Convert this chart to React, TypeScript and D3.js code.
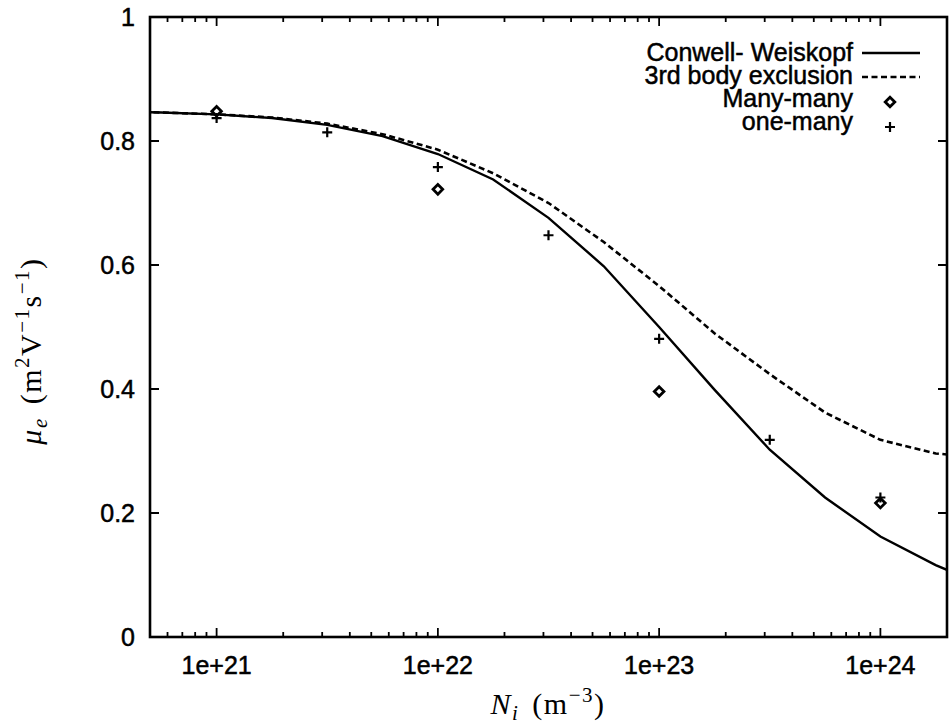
import React from "react";
import * as d3 from "d3";

// Ion density grid (quarter-decade steps), m^-3
const densityGrid = [
  3.162e20, 5.623e20, 1e21, 1.778e21, 3.162e21, 5.623e21, 1e22, 1.778e22, 3.162e22,
  5.623e22, 1e23, 1.778e23, 3.162e23, 5.623e23, 1e24, 1.778e24, 3.162e24,
];
// Conwell-Weiskopf mobility
const conwellWeiskopf = [
  0.848, 0.846, 0.843, 0.837, 0.826, 0.808, 0.779, 0.738, 0.676, 0.598, 0.5, 0.399, 0.302,
  0.225, 0.162, 0.116, 0.078,
];
// 3rd body exclusion mobility
const thirdBodyExclusion = [
  0.848, 0.846, 0.843, 0.838, 0.828, 0.811, 0.786, 0.748, 0.7, 0.637, 0.566, 0.49, 0.424,
  0.362, 0.318, 0.296, 0.288,
];
// Many-many simulation points
const manyManyDensity = [1e21, 1e22, 1e23, 1e24];
const manyManyMobility = [0.848, 0.722, 0.396, 0.216];
// One-many simulation points
const oneManyDensity = [1e21, 3.162e21, 1e22, 3.162e22, 1e23, 3.162e23, 1e24];
const oneManyMobility = [0.837, 0.814, 0.758, 0.648, 0.481, 0.318, 0.225];

const yTickValues = [0, 0.2, 0.4, 0.6, 0.8, 1];
const yTickLabels = ["0", "0.2", "0.4", "0.6", "0.8", "1"];
const xMajorValues = [1e21, 1e22, 1e23, 1e24];
const xMajorLabels = ["1e+21", "1e+22", "1e+23", "1e+24"];
const legendLabels = ["Conwell- Weiskopf", "3rd body exclusion", "Many-many", "one-many"];

const W = 949;
const H = 727;
const L = 150;
const R = 947;
const T = 17;
const B = 637;

const sans = "'Liberation Sans', Arial, Helvetica, sans-serif";
const serif = "'Liberation Serif', 'Times New Roman', serif";

function Diamond({ cx, cy }: { cx: number; cy: number }) {
  const r = 4.8;
  return (
    <path
      d={`M${cx},${cy - r}L${cx + r},${cy}L${cx},${cy + r}L${cx - r},${cy}Z`}
      fill="white"
      stroke="black"
      strokeWidth={2.8}
    />
  );
}

function Plus({ cx, cy }: { cx: number; cy: number }) {
  const r = 5;
  return (
    <path
      d={`M${cx - r},${cy}H${cx + r}M${cx},${cy - r}V${cy + r}`}
      stroke="black"
      strokeWidth={2.2}
      fill="none"
    />
  );
}

export default function App() {
  const x = d3.scaleLog().domain([5e20, 2e24]).range([L, R]);
  const y = d3.scaleLinear().domain([0, 1]).range([B, T]);

  const line = d3
    .line<number>()
    .x((_, i) => x(densityGrid[i]))
    .y((d) => y(d));

  const allXTicks = x.ticks();
  const isMajor = (v: number) => Math.abs(Math.log10(v) - Math.round(Math.log10(v))) < 1e-9;

  const legendX = 853;
  const legendText = [61, 84, 107, 130];
  const legendSample = [53, 77, 102, 127];
  const sampleX0 = 862;
  const sampleX1 = 920;
  const markerX = 890;

  const textStroke = { stroke: "black", strokeWidth: 0.5 };

  return (
    <svg
      width={W}
      height={H}
      style={{ position: "absolute", left: 0, top: 0, background: "white" }}
    >
      <defs>
        <clipPath id="plotArea">
          <rect x={L} y={T} width={R - L} height={B - T} />
        </clipPath>
      </defs>

      {/* x ticks on bottom and top, pointing inward */}
      {allXTicks.map((v, i) => {
        const len = isMajor(v) ? 9 : 5;
        const px = x(v);
        return (
          <g key={`xt${i}`} stroke="black" strokeWidth={1.8}>
            <line x1={px} x2={px} y1={B} y2={B - len} />
            <line x1={px} x2={px} y1={T} y2={T + len} />
          </g>
        );
      })}
      {/* y ticks on left and right */}
      {yTickValues.map((v, i) => (
        <g key={`yt${i}`} stroke="black" strokeWidth={2}>
          <line x1={L} x2={L + 9} y1={y(v)} y2={y(v)} />
          <line x1={R} x2={R - 9} y1={y(v)} y2={y(v)} />
        </g>
      ))}

      {/* curves */}
      <g clipPath="url(#plotArea)">
        <path d={line(conwellWeiskopf) || ""} fill="none" stroke="black" strokeWidth={2.4} />
        <path
          d={line(thirdBodyExclusion) || ""}
          fill="none"
          stroke="black"
          strokeWidth={2.6}
          strokeDasharray="6,3.5"
        />
      </g>

      {/* simulation points */}
      {manyManyDensity.map((n, i) => (
        <Diamond key={`mm${i}`} cx={x(n)} cy={y(manyManyMobility[i])} />
      ))}
      {oneManyDensity.map((n, i) => (
        <Plus key={`om${i}`} cx={x(n)} cy={y(oneManyMobility[i])} />
      ))}

      {/* frame */}
      <rect x={L} y={T} width={R - L} height={B - T} fill="none" stroke="black" strokeWidth={2.6} />

      {/* tick labels */}
      {yTickValues.map((v, i) => (
        <text
          key={`yl${i}`}
          x={135}
          y={y(v)}
          dy="0.36em"
          textAnchor="end"
          fontFamily={sans}
          fontSize={25}
          {...textStroke}
        >
          {yTickLabels[i]}
        </text>
      ))}
      {xMajorValues.map((v, i) => (
        <text
          key={`xl${i}`}
          x={x(v)}
          y={674}
          textAnchor="middle"
          fontFamily={sans}
          fontSize={25}
          {...textStroke}
        >
          {xMajorLabels[i]}
        </text>
      ))}

      {/* legend */}
      {legendLabels.map((lab, i) => (
        <text
          key={`lg${i}`}
          x={legendX}
          y={legendText[i]}
          textAnchor="end"
          fontFamily={sans}
          fontSize={25}
          {...textStroke}
        >
          {lab}
        </text>
      ))}
      <line x1={sampleX0} x2={sampleX1} y1={legendSample[0]} y2={legendSample[0]} stroke="black" strokeWidth={2.4} />
      <line
        x1={sampleX0}
        x2={sampleX1}
        y1={legendSample[1]}
        y2={legendSample[1]}
        stroke="black"
        strokeWidth={2.6}
        strokeDasharray="6,3.5"
      />
      <Diamond cx={markerX} cy={legendSample[2]} />
      <Plus cx={markerX} cy={legendSample[3]} />

      {/* axis titles */}
      <text
        x={548}
        y={714}
        textAnchor="middle"
        fontFamily={serif}
        fontSize={30}
        letterSpacing={1.5}
      >
        <tspan fontStyle="italic">N</tspan>
        <tspan fontStyle="italic" fontSize={21} dy={6}>i</tspan>
        <tspan dy={-6} dx={4}> (m</tspan>
        <tspan fontSize={21} dy={-12}>−3</tspan>
        <tspan dy={12}>)</tspan>
      </text>
      <text
        transform="translate(41,351) rotate(-90)"
        textAnchor="middle"
        fontFamily={serif}
        fontSize={30}
        letterSpacing={1.5}
      >
        <tspan fontStyle="italic">μ</tspan>
        <tspan fontStyle="italic" fontSize={21} dy={6}>e</tspan>
        <tspan dy={-6} dx={4}> (m</tspan>
        <tspan fontSize={21} dy={-12}>2</tspan>
        <tspan dy={12}>V</tspan>
        <tspan fontSize={21} dy={-12}>−1</tspan>
        <tspan dy={12}>s</tspan>
        <tspan fontSize={21} dy={-12}>−1</tspan>
        <tspan dy={12}>)</tspan>
      </text>
    </svg>
  );
}
